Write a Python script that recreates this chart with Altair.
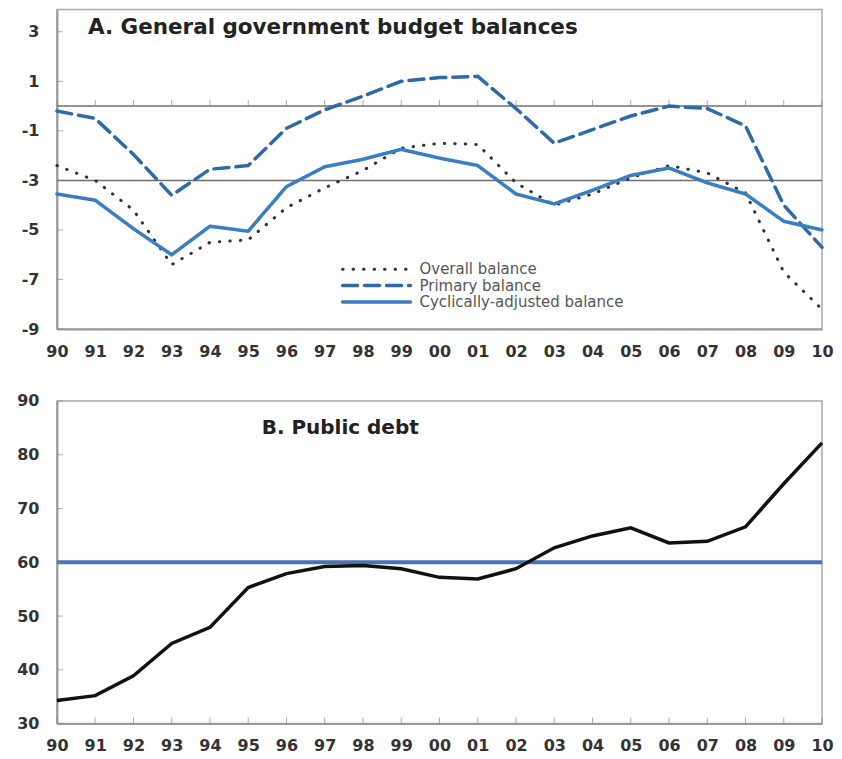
import altair as alt
import pandas as pd

# ---------------- data ----------------
years = list(range(1990, 2011))
overall = [-2.4, -3.0, -4.2, -6.4, -5.5, -5.4, -4.1, -3.3, -2.6, -1.7, -1.5, -1.55,
           -3.1, -4.0, -3.55, -2.9, -2.4, -2.7, -3.5, -6.7, -8.2]
primary = [-0.2, -0.5, -1.95, -3.6, -2.55, -2.4, -0.9, -0.15, 0.4, 1.0, 1.15, 1.2,
           -0.1, -1.5, -0.95, -0.4, 0.0, -0.1, -0.8, -4.0, -5.7]
cyclical = [-3.55, -3.8, -4.95, -6.0, -4.85, -5.05, -3.25, -2.45, -2.15, -1.75, -2.1, -2.4,
            -3.55, -3.95, -3.4, -2.8, -2.5, -3.1, -3.55, -4.65, -5.0]
debt = [34.3, 35.2, 38.9, 44.9, 47.9, 55.3, 57.9, 59.2, 59.4, 58.8, 57.2, 56.9,
        58.8, 62.7, 64.9, 66.4, 63.6, 63.9, 66.6, 74.6, 82.2]

series_names = ["Overall balance", "Primary balance", "Cyclically-adjusted balance"]
series_colors = ["#333333", "#2f6aa8", "#3a7dc0"]
series_dash = [[0.5, 10], [15, 7], [1, 0]]
series_width = [3, 3.5, 3.5]

ref_a = [0, -3]
ref_b = [60]
yticks_a = [3, 1, -1, -3, -5, -7, -9]
yticks_b = [30, 40, 50, 60, 70, 80, 90]

title_a = "A. General government budget balances"
title_b = "B. Public debt"

# ---------------- tables ----------------
df_a = pd.concat([
    pd.DataFrame({"year": years, "value": vals, "series": name})
    for name, vals in zip(series_names, [overall, primary, cyclical])
])
df_b = pd.DataFrame({"year": years, "debt": debt})
df_years = pd.DataFrame({"year": years})
df_ref_a = pd.DataFrame({"y": ref_a})
df_ref_b = pd.DataFrame({"y": ref_b})
df_yt_a = pd.DataFrame({"y": yticks_a})
df_yt_b = pd.DataFrame({"y": yticks_b})

W = 766
H = 320
FONT = "DejaVu Sans"
LEFT = 48  # y axis extent

xs = alt.Scale(domain=[1990, 2010], nice=False, zero=False)
xaxis = alt.Axis(values=years, labelExpr="format(datum.value % 100, '02d')",
                 title=None, labelPadding=14, labelFlush=False, labelOverlap=False)

ylab = "(datum.value < 0 ? '-' : '') + abs(datum.value)"
ysA = alt.Scale(domain=[-9, 3.9], nice=False, zero=False)
yaxisA = alt.Axis(values=yticks_a, title=None, labelPadding=18, minExtent=LEFT,
                  labelExpr=ylab, labelOverlap=False)
ysB = alt.Scale(domain=[30, 90], nice=False, zero=False)
yaxisB = alt.Axis(values=yticks_b, title=None, labelPadding=18, minExtent=LEFT,
                  labelExpr=ylab, labelOverlap=False)

# ---------------- panel A ----------------
refA = alt.Chart(df_ref_a).mark_rule(color="#6e6e6e", strokeWidth=1.5).encode(
    y=alt.Y("y:Q", scale=ysA, axis=yaxisA)
)
xtickA = alt.Chart(df_years).transform_calculate(y0="0").mark_tick(
    orient="vertical", size=6, thickness=1, color="#888", yOffset=-3
).encode(
    x=alt.X("year:Q", scale=xs, axis=xaxis),
    y=alt.Y("y0:Q", scale=ysA, axis=yaxisA),
)
ytickA = alt.Chart(df_yt_a).transform_calculate(x0="1990").mark_tick(
    orient="horizontal", size=6, thickness=1, color="#888", xOffset=3
).encode(
    x=alt.X("x0:Q", scale=xs, axis=xaxis),
    y=alt.Y("y:Q", scale=ysA, axis=yaxisA),
)
line_layers = []
for name, col, dash, w in zip(series_names, series_colors, series_dash, series_width):
    line_layers.append(
        alt.Chart(df_a[df_a.series == name]).mark_line(
            color=col, strokeDash=dash, strokeWidth=w, strokeCap="round"
        ).encode(
            x=alt.X("year:Q", scale=xs, axis=xaxis),
            y=alt.Y("value:Q", scale=ysA, axis=yaxisA),
        )
    )

legend_layers = []
for i, (name, col, dash, w) in enumerate(zip(series_names, series_colors, series_dash, series_width)):
    ldf = pd.DataFrame({"label": [name]})
    yy = 260 + 16.5 * i
    legend_layers.append(
        alt.Chart(ldf).mark_rule(color=col, strokeDash=dash, strokeWidth=w, strokeCap="round").encode(
            x=alt.value(286), x2=alt.value(354), y=alt.value(yy)
        )
    )
    legend_layers.append(
        alt.Chart(ldf).mark_text(align="left", baseline="middle", font=FONT,
                                 fontSize=15, color="#555").encode(
            x=alt.value(363), y=alt.value(yy), text="label:N"
        )
    )

titleA = alt.Chart(pd.DataFrame({"t": [title_a]})).mark_text(
    align="left", baseline="alphabetic", font=FONT, fontSize=21.5,
    fontWeight="bold", color="#222"
).encode(x=alt.value(31), y=alt.value(25), text="t:N")

panelA = alt.layer(refA, xtickA, ytickA, *line_layers, *legend_layers, titleA).properties(
    width=W, height=H
)

# ---------------- panel B ----------------
refB = alt.Chart(df_ref_b).mark_rule(color="#4a73b5", strokeWidth=4).encode(
    y=alt.Y("y:Q", scale=ysB, axis=yaxisB)
)
xtickB = alt.Chart(df_years).transform_calculate(y0="30").mark_tick(
    orient="vertical", size=6, thickness=1, color="#888", yOffset=-3
).encode(
    x=alt.X("year:Q", scale=xs, axis=xaxis),
    y=alt.Y("y0:Q", scale=ysB, axis=yaxisB),
)
ytickB = alt.Chart(df_yt_b).transform_calculate(x0="1990").mark_tick(
    orient="horizontal", size=6, thickness=1, color="#888", xOffset=3
).encode(
    x=alt.X("x0:Q", scale=xs, axis=xaxis),
    y=alt.Y("y:Q", scale=ysB, axis=yaxisB),
)
debtLine = alt.Chart(df_b).mark_line(color="#111", strokeWidth=3.5).encode(
    x=alt.X("year:Q", scale=xs, axis=xaxis),
    y=alt.Y("debt:Q", scale=ysB, axis=yaxisB),
)
titleB = alt.Chart(pd.DataFrame({"t": [title_b]})).mark_text(
    align="left", baseline="alphabetic", font=FONT, fontSize=20,
    fontWeight="bold", color="#222"
).encode(x=alt.value(205), y=alt.value(33), text="t:N")

panelB = alt.layer(refB, xtickB, ytickB, debtLine, titleB).properties(width=W, height=323)

chart = alt.vconcat(panelA, panelB, spacing=32).properties(
    padding={"left": 0, "top": 0, "right": 0, "bottom": 5}
).configure_view(
    stroke="#aaaaaa", strokeWidth=1.5
).configure_axis(
    grid=False, ticks=False, domainColor="#999999", domainWidth=2,
    labelFont=FONT, labelFontSize=16, labelFontWeight="bold", labelColor="#333333"
).configure_axisX(
    labelOverlap=False
)

chart.save("out.html", embed_options={"renderer": "svg", "actions": False})
